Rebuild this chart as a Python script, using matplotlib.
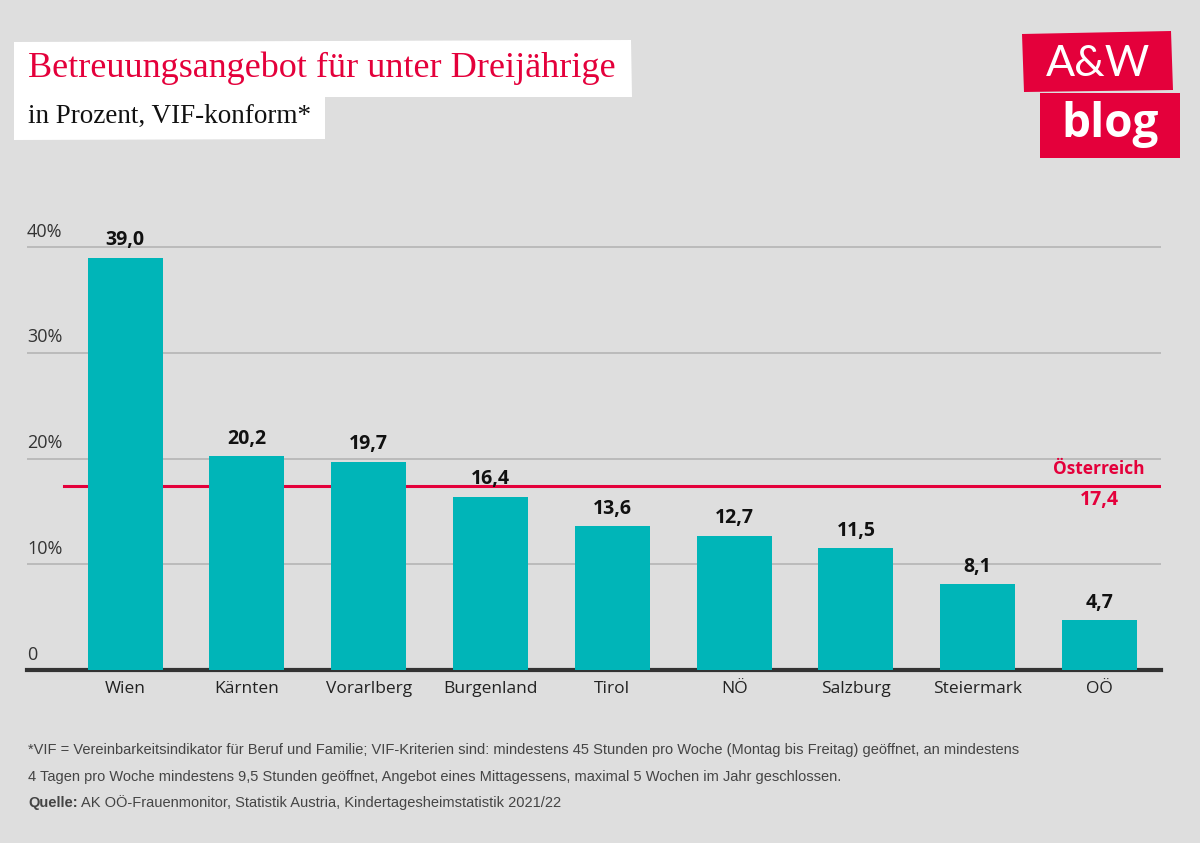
import matplotlib.pyplot as plt
from matplotlib.patches import Polygon

# data
laender = ['Wien', 'Kärnten', 'Vorarlberg', 'Burgenland', 'Tirol', 'NÖ', 'Salzburg', 'Steiermark', 'OÖ']
werte = [39.0, 20.2, 19.7, 16.4, 13.6, 12.7, 11.5, 8.1, 4.7]
oesterreich = 17.4
y_ticks = [0, 10, 20, 30, 40]
y_ticklabels = ['0', '10%', '20%', '30%', '40%']

BG = '#dedede'
TEAL = '#00b5b8'
RED = '#e4003b'
DARK = '#333333'

plt.rcParams['font.family'] = ['Open Sans', 'DejaVu Sans']


def komma(v):
    return f'{v:.1f}'.replace('.', ',')


def box(pts, color):
    # pixel coords (from top-left) -> figure fraction
    xy = [(px / 1200, 1 - py / 843) for px, py in pts]
    fig.patches.append(Polygon(xy, closed=True, transform=fig.transFigure,
                               facecolor=color, edgecolor='none'))


fig = plt.figure(figsize=(12, 8.43), dpi=100, facecolor=BG)
ax = fig.add_axes([0.0225, 0.2052, 0.945, 0.5143])
ax.set_facecolor(BG)

x = list(range(len(laender)))
ax.bar(x, werte, width=0.615, color=TEAL, zorder=3)
ax.set_xlim(-0.805, 8.505)
ax.set_ylim(0, 41)

for t in y_ticks[1:]:
    ax.axhline(t, color='#b4b4b4', lw=1.2, zorder=1)
for t, lab in zip(y_ticks, y_ticklabels):
    ax.text(-0.805, t + 0.6, lab, ha='left', va='bottom', fontsize=13, color=DARK)

for xi, v in zip(x, werte):
    ax.text(xi, v + 0.7, komma(v), ha='center', va='bottom', fontsize=14,
            fontweight='bold', color='#111111', zorder=4)

# Österreich line
ax.plot([-0.5, 8.505], [oesterreich, oesterreich], color=RED, lw=2.2, zorder=2)
ax.text(8.37, oesterreich + 0.8, 'Österreich', ha='right', va='bottom', fontsize=12.5,
        fontweight='bold', color=RED)
ax.text(8.0, oesterreich - 0.4, komma(oesterreich), ha='center', va='top', fontsize=14,
        fontweight='bold', color=RED)

ax.set_yticks([])
ax.set_xticks(x)
ax.set_xticklabels(laender, fontsize=12.5, color='#222222')
ax.tick_params(axis='x', length=0, pad=8)
for s in ['top', 'right', 'left']:
    ax.spines[s].set_visible(False)
ax.spines['bottom'].set_color(DARK)
ax.spines['bottom'].set_linewidth(3)

# title boxes
box([(14, 42), (631, 40), (632, 97), (14, 97)], 'white')
box([(14, 96), (325, 96), (325, 139), (14, 140)], 'white')
serif = ['Liberation Serif', 'DejaVu Serif']
fig.text(28 / 1200, 1 - 68 / 843, 'Betreuungsangebot für unter Dreijährige', fontsize=26,
         color=RED, family=serif, va='center', ha='left')
fig.text(28 / 1200, 1 - 116 / 843, 'in Prozent, VIF-konform*', fontsize=19.5,
         color='#111111', family=serif, va='center', ha='left')

# logo
box([(1022, 34), (1171, 31), (1173, 90), (1024, 92)], RED)
box([(1040, 93), (1180, 93), (1180, 158), (1040, 158)], RED)
fig.text(1098 / 1200, 1 - 64 / 843, 'A&W', fontsize=31, color='white', ha='center', va='center',
         family=['Lato', 'DejaVu Sans'])
fig.text(1110 / 1200, 1 - 124 / 843, 'blog', fontsize=33, color='white', ha='center', va='center',
         family=['Open Sans', 'DejaVu Sans'], fontweight='bold')

# footer
foot = ['*VIF = Vereinbarkeitsindikator für Beruf und Familie; VIF-Kriterien sind: mindestens 45 Stunden pro Woche (Montag bis Freitag) geöffnet, an mindestens',
        '4 Tagen pro Woche mindestens 9,5 Stunden geöffnet, Angebot eines Mittagessens, maximal 5 Wochen im Jahr geschlossen.']
narrow = ['Liberation Sans', 'DejaVu Sans']
FOOT = '#444444'
fig.text(28 / 1200, 1 - 750 / 843, foot[0], fontsize=10.5, color=FOOT, family=narrow, va='center')
fig.text(28 / 1200, 1 - 777 / 843, foot[1], fontsize=10.5, color=FOOT, family=narrow, va='center')
q = fig.text(28 / 1200, 1 - 803 / 843, 'Quelle:', fontsize=10.5, color=FOOT, family=narrow,
             va='center', fontweight='bold')
fig.canvas.draw()
bb = q.get_window_extent()
fig.text((bb.x1 + 3) / 1200, 1 - 803 / 843,
         'AK OÖ-Frauenmonitor, Statistik Austria, Kindertagesheimstatistik 2021/22',
         fontsize=10.5, color=FOOT, family=narrow, va='center')

fig.savefig('out.png', dpi=100, facecolor=BG)
